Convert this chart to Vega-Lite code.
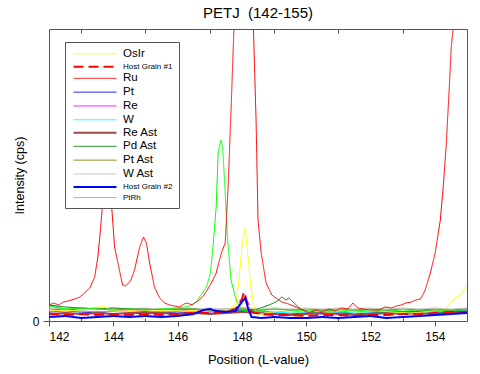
{
  "$schema": "https://vega.github.io/schema/vega-lite/v6.json",
  "width": 418,
  "height": 292,
  "autosize": {"type": "none"},
  "padding": {"left": 49, "top": 29, "right": 13, "bottom": 53},
  "title": {"text": "PETJ \u00a0(142-155)", "fontSize": 15, "fontWeight": "normal", "anchor": "middle", "baseline": "alphabetic", "offset": 11, "dy": 15, "font": "Liberation Sans", "color": "black"},
  "config": {
    "font": "Liberation Sans",
    "view": {"stroke": "#555555", "strokeWidth": 1},
    "axis": {"domain": false, "grid": false, "tickColor": "#555555", "labelColor": "black", "titleColor": "black", "labelFont": "Liberation Sans", "titleFont": "Liberation Sans", "titleFontWeight": "normal"},
    "legend": {"orient": "none", "legendX": 16, "legendY": 13, "fillColor": "white", "strokeColor": "#555555", "padding": 6, "symbolType": "M-4.3,0H4.3", "symbolSize": 100, "symbolOffset": 18, "labelOffset": 22, "rowPadding": 0.8, "labelFont": "Liberation Sans", "labelColor": "black", "labelFontSize": 11.5, "labelBaseline": "middle", "symbolFillColor": "transparent"}
  },
  "resolve": {"axis": {"x": "independent"}},
  "layer": [
    {
      "data": {"values": [{"x": 142}, {"x": 155}]},
      "mark": {"type": "rule", "opacity": 0},
      "encoding": {
        "x": {"field": "x", "type": "quantitative", "scale": {"domain": [142, 155], "nice": false, "zero": false}, "axis": {"orient": "top", "values": [143, 145, 147, 149, 151, 153], "labels": false, "tickSize": -4, "title": null}}
      }
    },
    {
      "data": {"values": [{"x": 142}, {"x": 155}]},
      "mark": {"type": "rule", "opacity": 0},
      "encoding": {
        "x": {"field": "x", "type": "quantitative", "scale": {"domain": [142, 155], "nice": false, "zero": false}, "axis": {"orient": "bottom", "values": [143, 145, 147, 149, 151, 153], "labels": false, "tickSize": -3, "title": null}}
      }
    },
    {
      "data": {"values": [
        {"s":"Pt","x":142,"y":8},{"s":"Pt","x":142.5,"y":7},{"s":"Pt","x":143,"y":8},{"s":"Pt","x":143.5,"y":9},{"s":"Pt","x":144,"y":7},{"s":"Pt","x":144.5,"y":8},{"s":"Pt","x":145,"y":7},{"s":"Pt","x":145.5,"y":8},{"s":"Pt","x":146,"y":9},{"s":"Pt","x":146.5,"y":8},{"s":"Pt","x":147,"y":9},{"s":"Pt","x":147.5,"y":10},{"s":"Pt","x":148,"y":11},{"s":"Pt","x":148.5,"y":9},{"s":"Pt","x":149,"y":8},{"s":"Pt","x":149.5,"y":7},{"s":"Pt","x":150,"y":8},{"s":"Pt","x":150.5,"y":7},{"s":"Pt","x":151,"y":8},{"s":"Pt","x":151.5,"y":7},{"s":"Pt","x":152,"y":8},{"s":"Pt","x":152.5,"y":9},{"s":"Pt","x":153,"y":8},{"s":"Pt","x":153.5,"y":7},{"s":"Pt","x":154,"y":8},{"s":"Pt","x":154.5,"y":9},{"s":"Pt","x":155,"y":10},
        {"s":"Re","x":142,"y":10},{"s":"Re","x":142.5,"y":9},{"s":"Re","x":143,"y":10},{"s":"Re","x":143.5,"y":9},{"s":"Re","x":144,"y":10},{"s":"Re","x":144.5,"y":11},{"s":"Re","x":145,"y":10},{"s":"Re","x":145.5,"y":9},{"s":"Re","x":146,"y":10},{"s":"Re","x":146.5,"y":10},{"s":"Re","x":147,"y":11},{"s":"Re","x":147.5,"y":10},{"s":"Re","x":148,"y":12},{"s":"Re","x":148.5,"y":10},{"s":"Re","x":149,"y":9},{"s":"Re","x":149.5,"y":10},{"s":"Re","x":150,"y":9},{"s":"Re","x":150.5,"y":10},{"s":"Re","x":151,"y":9},{"s":"Re","x":151.5,"y":10},{"s":"Re","x":152,"y":9},{"s":"Re","x":152.5,"y":10},{"s":"Re","x":153,"y":9},{"s":"Re","x":153.5,"y":10},{"s":"Re","x":154,"y":11},{"s":"Re","x":154.5,"y":10},{"s":"Re","x":155,"y":11},
        {"s":"W","x":142,"y":16},{"s":"W","x":142.5,"y":12},{"s":"W","x":143,"y":10},{"s":"W","x":143.5,"y":9},{"s":"W","x":144,"y":10},{"s":"W","x":144.5,"y":9},{"s":"W","x":145,"y":8},{"s":"W","x":145.5,"y":9},{"s":"W","x":146,"y":10},{"s":"W","x":146.5,"y":9},{"s":"W","x":147,"y":10},{"s":"W","x":147.5,"y":9},{"s":"W","x":148,"y":10},{"s":"W","x":148.5,"y":9},{"s":"W","x":149,"y":8},{"s":"W","x":149.5,"y":9},{"s":"W","x":150,"y":8},{"s":"W","x":150.5,"y":9},{"s":"W","x":151,"y":8},{"s":"W","x":151.5,"y":9},{"s":"W","x":152,"y":8},{"s":"W","x":152.5,"y":9},{"s":"W","x":153,"y":8},{"s":"W","x":153.5,"y":9},{"s":"W","x":154,"y":8},{"s":"W","x":154.5,"y":9},{"s":"W","x":155,"y":12},
        {"s":"Re Ast","x":142,"y":7},{"s":"Re Ast","x":142.5,"y":8},{"s":"Re Ast","x":143,"y":7},{"s":"Re Ast","x":143.5,"y":8},{"s":"Re Ast","x":144,"y":7},{"s":"Re Ast","x":144.5,"y":8},{"s":"Re Ast","x":145,"y":9},{"s":"Re Ast","x":145.5,"y":8},{"s":"Re Ast","x":146,"y":7},{"s":"Re Ast","x":146.5,"y":8},{"s":"Re Ast","x":147,"y":7},{"s":"Re Ast","x":147.5,"y":8},{"s":"Re Ast","x":148,"y":9},{"s":"Re Ast","x":148.5,"y":8},{"s":"Re Ast","x":149,"y":7},{"s":"Re Ast","x":149.5,"y":6},{"s":"Re Ast","x":150,"y":7},{"s":"Re Ast","x":150.5,"y":8},{"s":"Re Ast","x":151,"y":7},{"s":"Re Ast","x":151.5,"y":6},{"s":"Re Ast","x":152,"y":7},{"s":"Re Ast","x":152.5,"y":8},{"s":"Re Ast","x":153,"y":7},{"s":"Re Ast","x":153.5,"y":8},{"s":"Re Ast","x":154,"y":7},{"s":"Re Ast","x":154.5,"y":8},{"s":"Re Ast","x":155,"y":9},
        {"s":"Pt Ast","x":142,"y":12},{"s":"Pt Ast","x":142.5,"y":11},{"s":"Pt Ast","x":143,"y":12},{"s":"Pt Ast","x":143.5,"y":13},{"s":"Pt Ast","x":144,"y":11},{"s":"Pt Ast","x":144.5,"y":12},{"s":"Pt Ast","x":145,"y":11},{"s":"Pt Ast","x":145.5,"y":12},{"s":"Pt Ast","x":146,"y":11},{"s":"Pt Ast","x":146.5,"y":12},{"s":"Pt Ast","x":147,"y":11},{"s":"Pt Ast","x":147.5,"y":12},{"s":"Pt Ast","x":148,"y":13},{"s":"Pt Ast","x":148.5,"y":11},{"s":"Pt Ast","x":149,"y":12},{"s":"Pt Ast","x":149.5,"y":11},{"s":"Pt Ast","x":150,"y":12},{"s":"Pt Ast","x":150.5,"y":11},{"s":"Pt Ast","x":151,"y":12},{"s":"Pt Ast","x":151.5,"y":11},{"s":"Pt Ast","x":152,"y":12},{"s":"Pt Ast","x":152.5,"y":11},{"s":"Pt Ast","x":153,"y":12},{"s":"Pt Ast","x":153.5,"y":11},{"s":"Pt Ast","x":154,"y":12},{"s":"Pt Ast","x":154.5,"y":11},{"s":"Pt Ast","x":155,"y":12},
        {"s":"W Ast","x":142,"y":13},{"s":"W Ast","x":142.5,"y":12},{"s":"W Ast","x":143,"y":13},{"s":"W Ast","x":143.5,"y":12},{"s":"W Ast","x":144,"y":13},{"s":"W Ast","x":144.5,"y":12},{"s":"W Ast","x":145,"y":13},{"s":"W Ast","x":145.5,"y":12},{"s":"W Ast","x":146,"y":13},{"s":"W Ast","x":146.5,"y":12},{"s":"W Ast","x":147,"y":13},{"s":"W Ast","x":147.5,"y":12},{"s":"W Ast","x":148,"y":14},{"s":"W Ast","x":148.5,"y":12},{"s":"W Ast","x":149,"y":13},{"s":"W Ast","x":149.5,"y":12},{"s":"W Ast","x":150,"y":13},{"s":"W Ast","x":150.5,"y":12},{"s":"W Ast","x":151,"y":13},{"s":"W Ast","x":151.5,"y":12},{"s":"W Ast","x":152,"y":13},{"s":"W Ast","x":152.5,"y":12},{"s":"W Ast","x":153,"y":13},{"s":"W Ast","x":153.5,"y":12},{"s":"W Ast","x":154,"y":13},{"s":"W Ast","x":154.5,"y":12},{"s":"W Ast","x":155,"y":13},
        {"s":"Pd Ast","x":142,"y":16},{"s":"Pd Ast","x":142.5,"y":14},{"s":"Pd Ast","x":143,"y":13},{"s":"Pd Ast","x":143.5,"y":12},{"s":"Pd Ast","x":144,"y":13},{"s":"Pd Ast","x":144.5,"y":12},{"s":"Pd Ast","x":145,"y":12},{"s":"Pd Ast","x":145.5,"y":11},{"s":"Pd Ast","x":146,"y":12},{"s":"Pd Ast","x":146.5,"y":12},{"s":"Pd Ast","x":147,"y":11},{"s":"Pd Ast","x":147.5,"y":10},{"s":"Pd Ast","x":148,"y":10},{"s":"Pd Ast","x":148.5,"y":12},{"s":"Pd Ast","x":148.84,"y":16},{"s":"Pd Ast","x":149.06,"y":19},{"s":"Pd Ast","x":149.24,"y":24},{"s":"Pd Ast","x":149.37,"y":21},{"s":"Pd Ast","x":149.46,"y":23},{"s":"Pd Ast","x":149.62,"y":18},{"s":"Pd Ast","x":149.86,"y":11},{"s":"Pd Ast","x":150.2,"y":9},{"s":"Pd Ast","x":150.7,"y":10},{"s":"Pd Ast","x":151.2,"y":9},{"s":"Pd Ast","x":151.7,"y":10},{"s":"Pd Ast","x":152.2,"y":9},{"s":"Pd Ast","x":152.7,"y":10},{"s":"Pd Ast","x":153.2,"y":9},{"s":"Pd Ast","x":153.7,"y":10},{"s":"Pd Ast","x":154.2,"y":9},{"s":"Pd Ast","x":154.7,"y":10},{"s":"Pd Ast","x":155,"y":9},
        {"s":"OsIr","x":142,"y":11},{"s":"OsIr","x":142.5,"y":10},{"s":"OsIr","x":143,"y":11},{"s":"OsIr","x":143.4,"y":12},{"s":"OsIr","x":143.6,"y":15},{"s":"OsIr","x":143.75,"y":14},{"s":"OsIr","x":143.9,"y":11},{"s":"OsIr","x":144.3,"y":10},{"s":"OsIr","x":144.8,"y":11},{"s":"OsIr","x":145.2,"y":10},{"s":"OsIr","x":145.7,"y":11},{"s":"OsIr","x":146.2,"y":10},{"s":"OsIr","x":146.7,"y":11},{"s":"OsIr","x":147.2,"y":11},{"s":"OsIr","x":147.6,"y":11},{"s":"OsIr","x":147.82,"y":18},{"s":"OsIr","x":147.91,"y":41},{"s":"OsIr","x":148.0,"y":74},{"s":"OsIr","x":148.1,"y":93},{"s":"OsIr","x":148.16,"y":74},{"s":"OsIr","x":148.28,"y":34},{"s":"OsIr","x":148.38,"y":14},{"s":"OsIr","x":148.47,"y":6},{"s":"OsIr","x":148.7,"y":8},{"s":"OsIr","x":149.2,"y":10},{"s":"OsIr","x":149.7,"y":9},{"s":"OsIr","x":150.2,"y":10},{"s":"OsIr","x":150.7,"y":9},{"s":"OsIr","x":151.2,"y":10},{"s":"OsIr","x":151.7,"y":9},{"s":"OsIr","x":152.2,"y":10},{"s":"OsIr","x":152.7,"y":9},{"s":"OsIr","x":153.2,"y":8},{"s":"OsIr","x":153.7,"y":9},{"s":"OsIr","x":154.0,"y":10},{"s":"OsIr","x":154.32,"y":11},{"s":"OsIr","x":154.48,"y":18},{"s":"OsIr","x":154.66,"y":24},{"s":"OsIr","x":154.82,"y":26},{"s":"OsIr","x":154.94,"y":34},{"s":"OsIr","x":155,"y":36},
        {"s":"PtRh","x":142,"y":15},{"s":"PtRh","x":142.5,"y":12},{"s":"PtRh","x":143,"y":13},{"s":"PtRh","x":143.5,"y":12},{"s":"PtRh","x":144,"y":11},{"s":"PtRh","x":144.5,"y":12},{"s":"PtRh","x":145,"y":11},{"s":"PtRh","x":145.5,"y":12},{"s":"PtRh","x":146,"y":13},{"s":"PtRh","x":146.37,"y":15},{"s":"PtRh","x":146.58,"y":19},{"s":"PtRh","x":146.77,"y":28},{"s":"PtRh","x":146.9,"y":34},{"s":"PtRh","x":147.02,"y":48},{"s":"PtRh","x":147.1,"y":74},{"s":"PtRh","x":147.2,"y":114},{"s":"PtRh","x":147.26,"y":168},{"s":"PtRh","x":147.35,"y":181},{"s":"PtRh","x":147.4,"y":174},{"s":"PtRh","x":147.47,"y":134},{"s":"PtRh","x":147.55,"y":84},{"s":"PtRh","x":147.66,"y":41},{"s":"PtRh","x":147.82,"y":21},{"s":"PtRh","x":148.0,"y":11},{"s":"PtRh","x":148.5,"y":10},{"s":"PtRh","x":149,"y":12},{"s":"PtRh","x":149.5,"y":11},{"s":"PtRh","x":150,"y":10},{"s":"PtRh","x":150.5,"y":11},{"s":"PtRh","x":151,"y":10},{"s":"PtRh","x":151.5,"y":11},{"s":"PtRh","x":152,"y":10},{"s":"PtRh","x":152.5,"y":11},{"s":"PtRh","x":153,"y":10},{"s":"PtRh","x":153.5,"y":11},{"s":"PtRh","x":154,"y":10},{"s":"PtRh","x":154.5,"y":11},{"s":"PtRh","x":155,"y":10},
        {"s":"Host Grain #1","x":142,"y":7},{"s":"Host Grain #1","x":142.5,"y":6},{"s":"Host Grain #1","x":143,"y":7},{"s":"Host Grain #1","x":143.5,"y":6},{"s":"Host Grain #1","x":144,"y":7},{"s":"Host Grain #1","x":144.5,"y":6},{"s":"Host Grain #1","x":145,"y":7},{"s":"Host Grain #1","x":145.5,"y":6},{"s":"Host Grain #1","x":146,"y":7},{"s":"Host Grain #1","x":146.5,"y":8},{"s":"Host Grain #1","x":147,"y":8},{"s":"Host Grain #1","x":147.5,"y":9},{"s":"Host Grain #1","x":147.8,"y":12},{"s":"Host Grain #1","x":148.0,"y":22},{"s":"Host Grain #1","x":148.07,"y":29},{"s":"Host Grain #1","x":148.15,"y":20},{"s":"Host Grain #1","x":148.3,"y":9},{"s":"Host Grain #1","x":148.6,"y":7},{"s":"Host Grain #1","x":149,"y":6},{"s":"Host Grain #1","x":149.5,"y":6},{"s":"Host Grain #1","x":150,"y":5},{"s":"Host Grain #1","x":150.5,"y":6},{"s":"Host Grain #1","x":151,"y":6},{"s":"Host Grain #1","x":151.5,"y":5},{"s":"Host Grain #1","x":152,"y":6},{"s":"Host Grain #1","x":152.5,"y":6},{"s":"Host Grain #1","x":153,"y":7},{"s":"Host Grain #1","x":153.5,"y":7},{"s":"Host Grain #1","x":154,"y":8},{"s":"Host Grain #1","x":154.5,"y":9},{"s":"Host Grain #1","x":155,"y":9},
        {"s":"Host Grain #2","x":142,"y":4},{"s":"Host Grain #2","x":142.5,"y":5},{"s":"Host Grain #2","x":143,"y":3},{"s":"Host Grain #2","x":143.5,"y":4},{"s":"Host Grain #2","x":144,"y":5},{"s":"Host Grain #2","x":144.5,"y":4},{"s":"Host Grain #2","x":145,"y":5},{"s":"Host Grain #2","x":145.5,"y":4},{"s":"Host Grain #2","x":146,"y":5},{"s":"Host Grain #2","x":146.5,"y":7},{"s":"Host Grain #2","x":146.8,"y":11},{"s":"Host Grain #2","x":147.0,"y":12},{"s":"Host Grain #2","x":147.2,"y":10},{"s":"Host Grain #2","x":147.5,"y":9},{"s":"Host Grain #2","x":147.8,"y":10},{"s":"Host Grain #2","x":147.95,"y":17},{"s":"Host Grain #2","x":148.1,"y":23},{"s":"Host Grain #2","x":148.2,"y":12},{"s":"Host Grain #2","x":148.3,"y":4},{"s":"Host Grain #2","x":148.6,"y":3},{"s":"Host Grain #2","x":149,"y":4},{"s":"Host Grain #2","x":149.5,"y":3},{"s":"Host Grain #2","x":150,"y":3},{"s":"Host Grain #2","x":150.5,"y":4},{"s":"Host Grain #2","x":151,"y":3},{"s":"Host Grain #2","x":151.5,"y":4},{"s":"Host Grain #2","x":152,"y":5},{"s":"Host Grain #2","x":152.5,"y":3},{"s":"Host Grain #2","x":153,"y":4},{"s":"Host Grain #2","x":153.5,"y":5},{"s":"Host Grain #2","x":154,"y":6},{"s":"Host Grain #2","x":154.5,"y":7},{"s":"Host Grain #2","x":155,"y":8},
        {"s":"Ru","x":142,"y":16},{"s":"Ru","x":142.15,"y":18},{"s":"Ru","x":142.3,"y":16},{"s":"Ru","x":142.45,"y":19},{"s":"Ru","x":142.6,"y":20},{"s":"Ru","x":142.8,"y":22},{"s":"Ru","x":142.96,"y":24},{"s":"Ru","x":143.1,"y":28},{"s":"Ru","x":143.27,"y":33},{"s":"Ru","x":143.42,"y":44},{"s":"Ru","x":143.52,"y":64},{"s":"Ru","x":143.6,"y":91},{"s":"Ru","x":143.7,"y":130},{"s":"Ru","x":143.78,"y":148},{"s":"Ru","x":143.86,"y":140},{"s":"Ru","x":143.95,"y":114},{"s":"Ru","x":144.04,"y":74},{"s":"Ru","x":144.17,"y":54},{"s":"Ru","x":144.29,"y":36},{"s":"Ru","x":144.38,"y":35},{"s":"Ru","x":144.45,"y":37},{"s":"Ru","x":144.55,"y":41},{"s":"Ru","x":144.66,"y":51},{"s":"Ru","x":144.75,"y":64},{"s":"Ru","x":144.82,"y":74},{"s":"Ru","x":144.94,"y":84},{"s":"Ru","x":145.03,"y":78},{"s":"Ru","x":145.13,"y":58},{"s":"Ru","x":145.28,"y":34},{"s":"Ru","x":145.44,"y":23},{"s":"Ru","x":145.6,"y":18},{"s":"Ru","x":145.75,"y":16},{"s":"Ru","x":145.9,"y":15},{"s":"Ru","x":146.06,"y":14},{"s":"Ru","x":146.2,"y":17},{"s":"Ru","x":146.3,"y":18},{"s":"Ru","x":146.45,"y":16},{"s":"Ru","x":146.67,"y":21},{"s":"Ru","x":146.8,"y":25},{"s":"Ru","x":146.92,"y":31},{"s":"Ru","x":147.05,"y":38},{"s":"Ru","x":147.2,"y":48},{"s":"Ru","x":147.36,"y":68},{"s":"Ru","x":147.48,"y":78},{"s":"Ru","x":147.57,"y":134},{"s":"Ru","x":147.67,"y":218},{"s":"Ru","x":147.76,"y":301},{"s":"Ru","x":147.85,"y":360},{"s":"Ru","x":148.2,"y":360},{"s":"Ru","x":148.35,"y":301},{"s":"Ru","x":148.44,"y":201},{"s":"Ru","x":148.5,"y":101},{"s":"Ru","x":148.6,"y":68},{"s":"Ru","x":148.75,"y":38},{"s":"Ru","x":148.93,"y":26},{"s":"Ru","x":149.1,"y":22},{"s":"Ru","x":149.24,"y":19},{"s":"Ru","x":149.45,"y":17},{"s":"Ru","x":149.68,"y":14},{"s":"Ru","x":149.9,"y":11},{"s":"Ru","x":150.08,"y":8},{"s":"Ru","x":150.3,"y":11},{"s":"Ru","x":150.5,"y":9},{"s":"Ru","x":150.7,"y":12},{"s":"Ru","x":150.9,"y":10},{"s":"Ru","x":151.1,"y":13},{"s":"Ru","x":151.3,"y":12},{"s":"Ru","x":151.45,"y":18},{"s":"Ru","x":151.6,"y":13},{"s":"Ru","x":151.8,"y":12},{"s":"Ru","x":152.0,"y":11},{"s":"Ru","x":152.25,"y":11},{"s":"Ru","x":152.45,"y":14},{"s":"Ru","x":152.65,"y":13},{"s":"Ru","x":152.8,"y":15},{"s":"Ru","x":152.96,"y":16},{"s":"Ru","x":153.1,"y":18},{"s":"Ru","x":153.27,"y":19},{"s":"Ru","x":153.4,"y":21},{"s":"Ru","x":153.55,"y":22},{"s":"Ru","x":153.62,"y":26},{"s":"Ru","x":153.7,"y":31},{"s":"Ru","x":153.86,"y":48},{"s":"Ru","x":154.01,"y":68},{"s":"Ru","x":154.17,"y":101},{"s":"Ru","x":154.26,"y":134},{"s":"Ru","x":154.35,"y":174},{"s":"Ru","x":154.45,"y":234},{"s":"Ru","x":154.51,"y":274},{"s":"Ru","x":154.6,"y":301},{"s":"Ru","x":154.7,"y":340}
      ]},
      "mark": {"type": "line", "clip": true, "interpolate": "linear"},
      "encoding": {
        "x": {"field": "x", "type": "quantitative", "scale": {"domain": [142, 155], "nice": false, "zero": false}, "axis": {"orient": "bottom", "values": [142, 144, 146, 148, 150, 152, 154], "tickSize": 5, "labelFontSize": 12, "labelPadding": 5, "title": "Position (L-value)", "titleFontSize": 13, "titlePadding": 11}},
        "y": {"field": "y", "type": "quantitative", "scale": {"domain": [0, 292], "nice": false}, "axis": {"values": [0], "tickSize": 6, "labelFontSize": 12, "labelPadding": 4, "title": "Intensity (cps)", "titleFontSize": 12.5, "titlePadding": 6}},
        "color": {"field": "s", "type": "nominal", "title": null, "scale": {"domain": ["OsIr", "Host Grain #1", "Ru", "Pt", "Re", "W", "Re Ast", "Pd Ast", "Pt Ast", "W Ast", "Host Grain #2", "PtRh"], "range": ["#ffff00", "#ff0000", "#ff0000", "#0000ff", "#ff00ff", "#00ffff", "#a04848", "#008000", "#808000", "#c0c0c0", "#0000ff", "#00ff00"]}, "legend": {"encode": {"labels": {"update": {"fontSize": {"signal": "indexof(['Host Grain #1','Host Grain #2','PtRh'], datum.label) >= 0 ? 8 : 11.5"}}}}}},
        "strokeWidth": {"field": "s", "type": "nominal", "title": null, "scale": {"type": "ordinal", "domain": ["OsIr", "Host Grain #1", "Ru", "Pt", "Re", "W", "Re Ast", "Pd Ast", "Pt Ast", "W Ast", "Host Grain #2", "PtRh"], "range": [1, 2, 1, 1, 1, 1, 2, 1, 1, 1, 2, 1]}},
        "strokeDash": {"field": "s", "type": "nominal", "title": null, "scale": {"type": "ordinal", "domain": ["OsIr", "Host Grain #1", "Ru", "Pt", "Re", "W", "Re Ast", "Pd Ast", "Pt Ast", "W Ast", "Host Grain #2", "PtRh"], "range": [[1, 0], [10, 5], [1, 0], [1, 0], [1, 0], [1, 0], [1, 0], [1, 0], [1, 0], [1, 0], [1, 0], [1, 0]]}}
      }
    }
  ]
}
